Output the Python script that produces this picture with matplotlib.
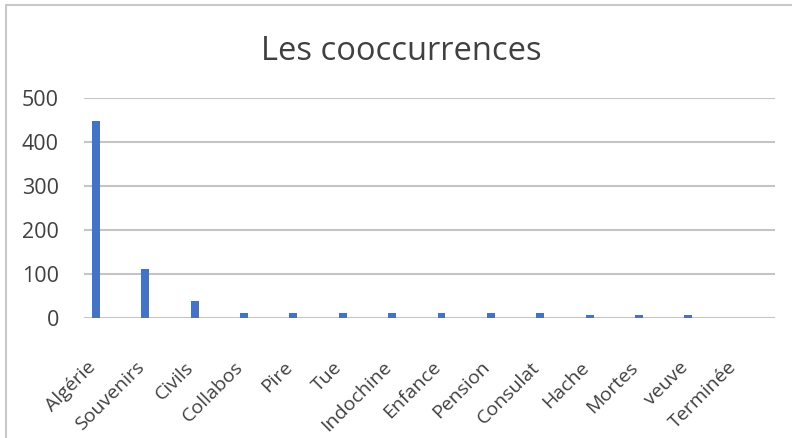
import matplotlib
matplotlib.use("Agg")
import matplotlib.pyplot as plt
from matplotlib.patches import Rectangle

categories = ["Algérie", "Souvenirs", "Civils", "Collabos", "Pire", "Tue", "Indochine",
              "Enfance", "Pension", "Consulat", "Hache", "Mortes", "veuve", "Terminée"]
values = [448, 111, 39, 12, 12, 12, 12, 12, 12, 12, 7, 7, 7, 0]
yticks = [0, 100, 200, 300, 400, 500]

plt.rcParams['font.family'] = ['Open Sans', 'DejaVu Sans']

fig = plt.figure(figsize=(7.92, 4.38), dpi=100)
W, H = 792, 438
ax = fig.add_axes([84 / W, 1 - 318 / H, (775 - 84) / W, (318 - 98) / H])

x = list(range(len(categories)))
ax.bar(x, values, width=0.16, color="#4472C4", zorder=3)
ax.set_xlim(-0.243, len(categories) - 0.243)
ax.set_ylim(0, 500)
ax.set_yticks(yticks)
ax.set_yticklabels([str(v) for v in yticks], fontsize=15.5, color="#404040")
ax.set_xticks(x)
ax.set_xticklabels(categories, rotation=45, ha="right", va="baseline",
                   rotation_mode="anchor", fontsize=14, color="#404040")
ax.tick_params(axis="both", length=0)
ax.tick_params(axis="y", pad=18)
ax.tick_params(axis="x", pad=36)
ax.grid(axis="y", color="#C4C4C4", linewidth=1.5, zorder=0)
ax.grid(axis="x", visible=False)
for s in ax.spines.values():
    s.set_visible(False)
ax.set_axisbelow(True)

fig.text(401 / W, 1 - 52 / H, "Les cooccurrences", fontsize=23.5, color="#404040",
         ha="center", va="center")

fig.patches.append(Rectangle((6 / W, -0.1), 1.2, 1 - 5 / H + 0.1,
                             transform=fig.transFigure, fill=False,
                             edgecolor="#C8C8C8", linewidth=1.5))

fig.savefig("out.png", dpi=100)
